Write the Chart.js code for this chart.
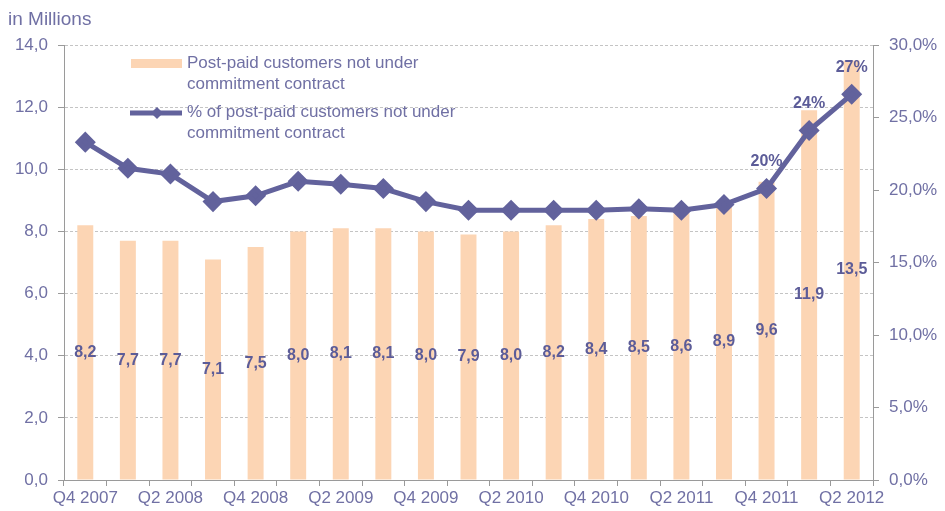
<!DOCTYPE html>
<html>
<head>
<meta charset="utf-8">
<script src="https://cdn.jsdelivr.net/npm/chart.js@4/dist/chart.umd.min.js"></script>
<style>
  html, body { margin: 0; padding: 0; background: #fff; }
  #wrap { width: 945px; height: 511px; }
</style>
</head>
<body>
<div id="wrap"><canvas id="myChart" width="945" height="511"></canvas></div>
<script>
// Data
const quarters = ['Q4 2007', 'Q1 2008', 'Q2 2008', 'Q3 2008', 'Q4 2008', 'Q1 2009', 'Q2 2009',
  'Q3 2009', 'Q4 2009', 'Q1 2010', 'Q2 2010', 'Q3 2010', 'Q4 2010', 'Q1 2011', 'Q2 2011',
  'Q3 2011', 'Q4 2011', 'Q1 2012', 'Q2 2012'];
const customers = [8.2, 7.7, 7.7, 7.1, 7.5, 8.0, 8.1, 8.1, 8.0, 7.9, 8.0, 8.2, 8.4, 8.5, 8.6, 8.9, 9.6, 11.9, 13.5];
const sharePct = [23.3, 21.5, 21.1, 19.2, 19.6, 20.6, 20.4, 20.1, 19.2, 18.6, 18.6, 18.6, 18.6, 18.7, 18.6, 19.0, 20.1, 24.1, 26.6];
const pctLabelIndexes = [16, 17, 18];
const legendTexts = [
  ['Post-paid customers not under', 'commitment contract'],
  ['% of post-paid customers not under', 'commitment contract']
];

const barColor = '#FCD5B4';
const lineColor = '#62629C';
const textColor = '#7070A4';
const labelColor = '#5C5C98';
const axisColor = '#9a9a9a';
const gridColor = '#c4c4c4';
const fontFamily = '"Liberation Sans", Arial, sans-serif';

function comma(v, d) {
  return v.toFixed(d).replace('.', ',');
}

// draws the value labels, the legend and the unit caption
const extras = {
  id: 'extras',
  afterDatasetsDraw(chart) {
    const ctx = chart.ctx;
    ctx.save();

    // bar values in the middle of each bar
    const bars = chart.getDatasetMeta(0).data;
    ctx.font = 'bold 16px ' + fontFamily;
    ctx.fillStyle = labelColor;
    ctx.textAlign = 'center';
    ctx.textBaseline = 'middle';
    bars.forEach((el, i) => {
      ctx.fillText(comma(customers[i], 1), el.x, (el.y + el.base) / 2);
    });

    // percentages above the last points
    const pts = chart.getDatasetMeta(1).data;
    pctLabelIndexes.forEach(i => {
      ctx.fillText(Math.round(sharePct[i]) + '%', pts[i].x, pts[i].y - 27);
    });

    // legend
    ctx.font = '17px ' + fontFamily;
    ctx.fillStyle = textColor;
    ctx.textAlign = 'left';
    ctx.fillText(legendTexts[0][0], 187, 63);
    ctx.fillText(legendTexts[0][1], 187, 84);
    ctx.fillText(legendTexts[1][0], 187, 112);
    ctx.fillText(legendTexts[1][1], 187, 133);

    ctx.fillStyle = barColor;
    ctx.fillRect(131, 59, 51, 9);

    ctx.strokeStyle = lineColor;
    ctx.lineWidth = 5;
    ctx.beginPath();
    ctx.moveTo(130, 113);
    ctx.lineTo(182, 113);
    ctx.stroke();
    ctx.fillStyle = lineColor;
    ctx.beginPath();
    ctx.moveTo(157, 107);
    ctx.lineTo(163, 113);
    ctx.lineTo(157, 119);
    ctx.lineTo(151, 113);
    ctx.closePath();
    ctx.fill();

    // unit caption
    ctx.font = '19px ' + fontFamily;
    ctx.fillStyle = textColor;
    ctx.textBaseline = 'alphabetic';
    ctx.fillText('in Millions', 8, 25);

    ctx.restore();
  }
};

const ctx = document.getElementById('myChart').getContext('2d');
const chart = new Chart(ctx, {
  type: 'bar',
  data: {
    labels: quarters,
    datasets: [{
      label: legendTexts[0].join(' '),
      data: customers,
      backgroundColor: barColor,
      categoryPercentage: 1,
      barPercentage: 0.375,
      yAxisID: 'y',
      order: 1
    }, {
      type: 'line',
      label: legendTexts[1].join(' '),
      data: sharePct,
      borderColor: lineColor,
      backgroundColor: lineColor,
      borderWidth: 5,
      pointStyle: 'rectRot',
      pointRadius: 7,
      pointHoverRadius: 7,
      tension: 0,
      yAxisID: 'y2',
      order: 0
    }]
  },
  options: {
    responsive: false,
    animation: false,
    layout: { padding: { top: 45, left: 0, right: 0, bottom: 0 } },
    plugins: {
      legend: { display: false },
      tooltip: { enabled: false }
    },
    scales: {
      x: {
        offset: true,
        grid: {
          offset: true,
          drawOnChartArea: false,
          tickLength: 6,
          tickColor: axisColor
        },
        border: { color: axisColor, width: 1 },
        ticks: {
          autoSkip: false,
          maxRotation: 0,
          minRotation: 0,
          padding: 2,
          color: textColor,
          font: { family: fontFamily, size: 17 },
          callback: (v, i) => (i % 2 === 0 ? quarters[i] : '')
        },
        afterFit: s => { s.height = 31; }
      },
      y: {
        position: 'left',
        min: 0,
        max: 14,
        grid: {
          color: gridColor,
          tickLength: 6,
          tickColor: axisColor,
          tickBorderDash: []
        },
        border: { color: axisColor, width: 1, dash: [3, 2] },
        ticks: {
          stepSize: 2,
          padding: 10,
          color: textColor,
          font: { family: fontFamily, size: 17 },
          callback: v => comma(v, 1)
        },
        afterFit: s => { s.width = 64; }
      },
      y2: {
        position: 'right',
        min: 0,
        max: 30,
        grid: {
          drawOnChartArea: false,
          tickLength: 6,
          tickColor: axisColor
        },
        border: { color: axisColor, width: 1 },
        ticks: {
          stepSize: 5,
          padding: 10,
          color: textColor,
          font: { family: fontFamily, size: 17 },
          callback: v => comma(v, 1) + '%'
        },
        afterFit: s => { s.width = 72; }
      }
    }
  },
  plugins: [extras]
});
</script>
</body>
</html>
